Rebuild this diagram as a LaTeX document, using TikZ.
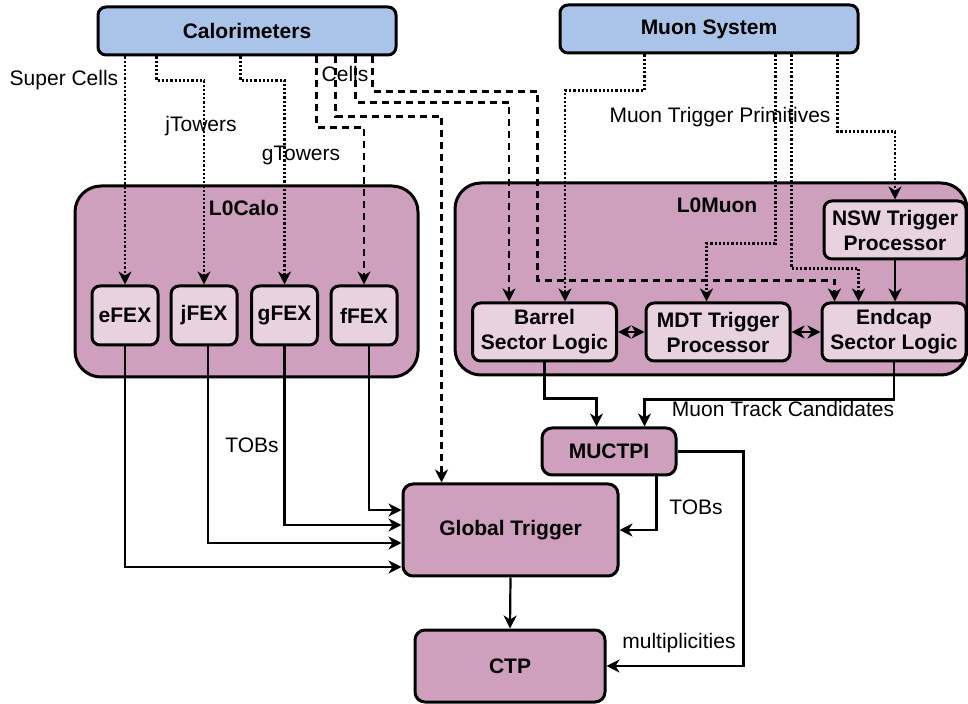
\documentclass[tikz,border=0pt]{standalone}
\usepackage{fontspec}
\setmainfont{Liberation Sans}
\usetikzlibrary{shapes,arrows.meta,positioning,calc}
\definecolor{detcolor}{RGB}{169,196,232}
\definecolor{levelcolor}{RGB}{206,160,190}
\definecolor{subcolor}{RGB}{232,210,224}

\begin{document}
\begin{tikzpicture}[
        x=0.5pt, y=-0.5pt,
        font=\fontsize{10.5}{12.5}\selectfont,
        >={Stealth[length=6.5pt, width=6.5pt, inset=2pt]},
        detector/.style={rectangle, draw, line width=1.5pt, rounded corners=4pt, fill=detcolor, minimum width=149pt, minimum height=24pt, font=\fontsize{10.5}{12.5}\selectfont\bfseries},
        level0/.style={rectangle, draw, line width=1.5pt, rounded corners=13pt, fill=levelcolor},
        fex/.style={rectangle, draw, line width=1.5pt, rounded corners=4pt, fill=subcolor, minimum width=33pt, minimum height=29.5pt, inner sep=0pt, font=\fontsize{10.5}{12.5}\selectfont\bfseries},
        logic/.style={rectangle, draw, line width=1.5pt, rounded corners=4pt, fill=subcolor, minimum width=72pt, minimum height=29pt, inner sep=0pt, align=center, font=\fontsize{10.5}{12.5}\selectfont\bfseries},
        trigger/.style={rectangle, draw, line width=1.5pt, rounded corners=5pt, fill=levelcolor, inner sep=0pt, font=\fontsize{10.5}{12.5}\selectfont\bfseries},
        title/.style={font=\fontsize{10.5}{12.5}\selectfont\bfseries},
        arrow/.style={->, line width=1.1pt},
        dottedarrow/.style={arrow, dash pattern=on 1.1pt off 1pt},
        dashedarrow/.style={arrow, dash pattern=on 3.5pt off 2.5pt},
        biarrow/.style={<->, line width=1.1pt}
    ]
        \useasboundingbox (0,0) rectangle (968,704);

        % Detectors
        \node[detector] (calo) at (247,31) {Calorimeters};
        \node[detector] (muonsys) at (709,29) {Muon System};

        % L0Calo
        \node[level0, minimum width=171.5pt, minimum height=95.5pt] (l0calo) at (246.5,281.5) {};
        \node[title] (l0calolbl) at (244,208) {L0Calo};
        \node[fex] (efex) at (125,315.5) {eFEX};
        \node[fex] (jfex) at (204,315.5) {jFEX};
        \node[fex] (gfex) at (284.5,315.5) {gFEX};
        \node[fex] (ffex) at (364,315.5) {fFEX};

        % L0Muon
        \node[level0, minimum width=256pt, minimum height=96pt] (l0muon) at (711,279) {};
        \node[title] (l0muonlbl) at (717,205) {L0Muon};
        \node[logic, minimum width=71pt] (nsw) at (895,230) {NSW Trigger\\Processor};
        \node[logic] (barrel) at (544.5,332) {Barrel\\Sector Logic};
        \node[logic] (mdt) at (718,332) {MDT Trigger\\Processor};
        \node[logic] (endcap) at (894,332) {Endcap\\Sector Logic};

        % Central trigger
        \node[trigger, minimum width=67pt, minimum height=23.5pt] (muctpi) at (609,451.5) {MUCTPI};
        \node[trigger, minimum width=107.5pt, minimum height=46pt] (global) at (510.5,530) {Global Trigger};
        \node[trigger, minimum width=95pt, minimum height=36pt] (ctp) at (510,666) {CTP};

        % Calorimeter inputs
        \draw[dottedarrow] (calo.south -| efex.north) -- (efex.north);
        \draw[dottedarrow] ($(calo.south west)+(60,0)$) -- ++(0,24) -| (jfex.north);
        \draw[dottedarrow] ($(calo.south west)+(144,0)$) -- ++(0,24) -| (gfex.north);
        \draw[dashedarrow] ($(calo.south west)+(220,0)$) -- ++(0,71) -| (ffex.north);
        \draw[dashedarrow] ($(calo.south west)+(239,0)$) -- ++(0,60) -| ($(global.north west)+(40,0)$);
        \draw[dashedarrow] ($(calo.south west)+(259,0)$) -- ++(0,46) -| ($(barrel.north west)+(38,0)$);
        \draw[dashedarrow] ($(calo.south west)+(276,0)$) -- ++(0,35) -- ++(165,0) -- ++(0,189) -| ($(endcap.north west)+(14,0)$);
        \node (superlbl) at (64,80) {Super Cells};
        \node (jtowlbl) at (201,126) {jTowers};
        \node (gtowlbl) at (301,155) {gTowers};
        \node (cellslbl) at (345,74) {Cells};

        % Muon inputs
        \draw[dottedarrow] ($(muonsys.south west)+(86,0)$) -- ++(0,36) -| ($(barrel.north west)+(94,0)$);
        \draw[dottedarrow] ($(muonsys.south west)+(217,0)$) -- ++(0,189) -| ($(mdt.north west)+(62,0)$);
        \draw[dottedarrow] ($(muonsys.south west)+(233,0)$) -- ++(0,214) -| ($(endcap.north west)+(38,0)$);
        \draw[dottedarrow] ($(muonsys.south west)+(279,0)$) -- ++(0,77) -| (nsw.north);
        \node (primlbl) at (720,117) {Muon Trigger Primitives};

        % L0Muon internal
        \draw[arrow] (nsw.south) -- (nsw.south |- endcap.north);
        \draw[biarrow] (barrel) -- (mdt);
        \draw[biarrow] (mdt) -- (endcap);

        % To MUCTPI
        \draw[arrow] (barrel.south) -- ++(0,36) -| ($(muctpi.north west)+(56,0)$);
        \draw[arrow] (endcap.south) -- ++(0,37) -| ($(muctpi.north west)+(104,0)$);
        \node (tracklbl) at (783,409) {Muon Track Candidates};

        % TOBs to Global Trigger
        \draw[arrow] (efex.south) |- ($(global.west)+(0,37)$);
        \draw[arrow] ($(jfex.south)+(4,0)$) |- ($(global.west)+(0,13)$);
        \draw[arrow] (gfex.south) |- ($(global.west)+(0,-5)$);
        \draw[arrow] ($(ffex.south)+(5,0)$) |- ($(global.west)+(0,-20)$);
        \node (tobslbl) at (252,445) {TOBs};
        \draw[arrow] ($(muctpi.south west)+(116,0)$) |- (global.east);
        \node (mutobslbl) at (696,507) {TOBs};

        % To CTP
        \draw[arrow] (global.south) -- (ctp.north);
        \draw[arrow] (muctpi.east) -- ++(66,0) |- (ctp.east);
        \node (multlbl) at (679,643) {multiplicities};

    \end{tikzpicture}
\end{document}
